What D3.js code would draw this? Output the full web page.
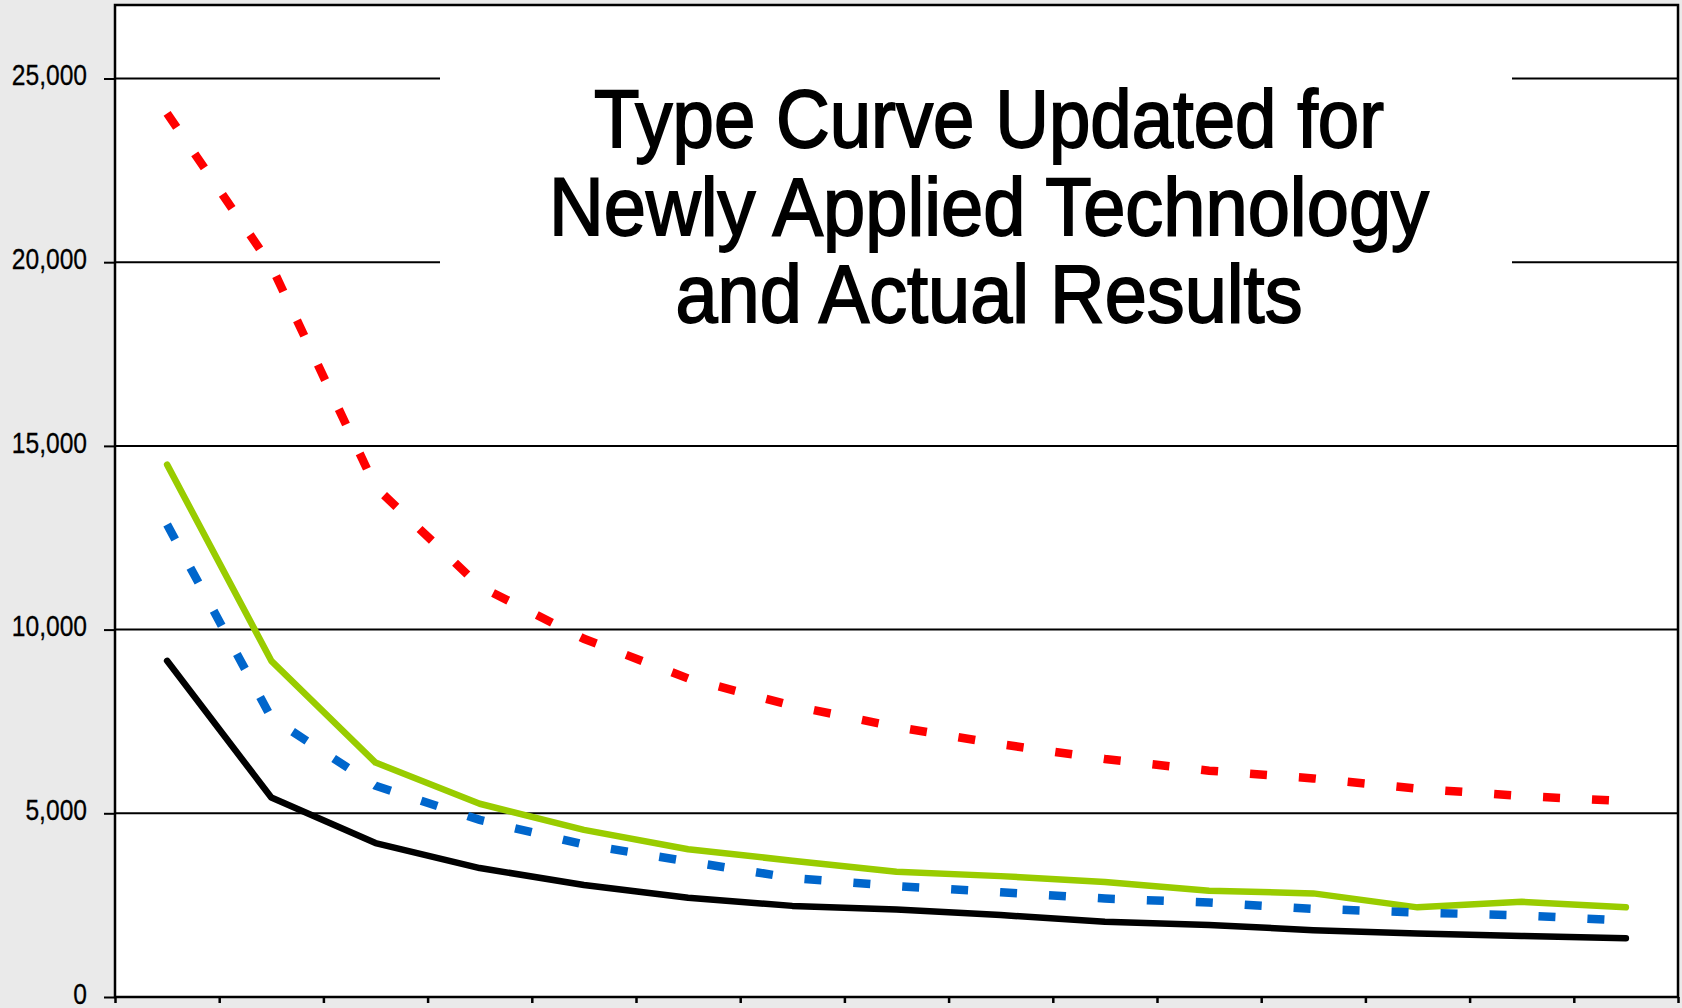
<!DOCTYPE html>
<html>
<head>
<meta charset="utf-8">
<script src="https://cdn.jsdelivr.net/npm/d3@7/dist/d3.min.js"></script>
<style>
  html, body { margin: 0; padding: 0; background: #eaeaea; }
  #chart { width: 1682px; height: 1008px; }
  .axis text {
    font-family: "Liberation Sans", Arial, sans-serif;
    font-size: 30px;
    fill: #000;
    stroke: #000;
    stroke-width: 0.3px;
  }
  .title {
    font-family: "Liberation Sans", Arial, sans-serif;
    font-size: 81px;
    fill: #000;
    stroke: #000;
    stroke-width: 1.8px;
  }
</style>
</head>
<body>
<div id="chart"></div>
<script>
// periods along the x axis (no labels shown on the original)
const periods = [1, 2, 3, 4, 5, 6, 7, 8, 9, 10, 11, 12, 13, 14, 15];
const yTicks = [0, 5000, 10000, 15000, 20000, 25000];
const titleLines = ["Type Curve Updated for", "Newly Applied Technology", "and Actual Results"];

// red dashed - updated type curve
const updatedTypeCurve = [24050, 19900, 13880, 11180, 9750, 8670, 7930, 7350, 6880, 6480, 6160, 5950, 5670, 5470, 5330];
// blue dashed - previous type curve
const previousTypeCurve = [12860, 7600, 5750, 4820, 4150, 3690, 3240, 3020, 2850, 2680, 2570, 2400, 2300, 2220, 2080];
// green - actual results, new technology
const actualNewTech = [14490, 9150, 6380, 5260, 4550, 4020, 3710, 3410, 3290, 3130, 2890, 2820, 2440, 2590, 2440];
// black - actual results, older wells
const actualOldTech = [9150, 5430, 4190, 3510, 3050, 2700, 2480, 2380, 2230, 2050, 1960, 1820, 1730, 1660, 1600];

const series = [
  { name: "Actual (older)", values: actualOldTech, color: "#000000", dash: null },
  { name: "Actual (new technology)", values: actualNewTech, color: "#99cc00", dash: null },
  { name: "Previous type curve", values: previousTypeCurve, color: "#0066cc", dash: "17,32" },
  { name: "Updated type curve", values: updatedTypeCurve, color: "#ff0000", dash: "17,32" },
];

startChart("chart");

// squeeze a text horizontally, keeping its anchor (a stand-in for a narrow font)
function condense(selection, ratio) {
  selection.each(function () {
    const len = this.getComputedTextLength();
    d3.select(this)
      .attr("textLength", len * ratio)
      .attr("lengthAdjust", "spacingAndGlyphs");
  });
}

function startChart(idNode) {
  const canvas = d3.select("#" + idNode);
  const width = 1682;
  const height = 1008;

  const svg = canvas.append("svg").attr("width", width).attr("height", height);

  svg.append("rect").attr("width", width).attr("height", height).attr("fill", "#eaeaea");

  const plot = { left: 115, top: 5, right: 1678, bottom: 997 };

  svg
    .append("rect")
    .attr("x", plot.left)
    .attr("y", plot.top)
    .attr("width", plot.right - plot.left)
    .attr("height", plot.bottom - plot.top)
    .attr("fill", "#ffffff");

  const scaleX = d3.scaleBand().domain(periods).range([plot.left, plot.right]);
  const scaleEdge = d3.scaleLinear().domain([0, periods.length]).range([plot.left, plot.right]);
  const scaleY = d3.scaleLinear().domain([0, 27000]).range([plot.bottom, plot.top]);

  // y axis with gridlines
  const yAxis = d3
    .axisLeft(scaleY)
    .tickValues(yTicks)
    .tickFormat(d3.format(","))
    .tickSizeInner(11)
    .tickSizeOuter(0)
    .tickPadding(17);

  const gy = svg
    .append("g")
    .attr("class", "axis y-axis")
    .attr("transform", "translate(" + plot.left + ",0)")
    .call(yAxis);
  gy.select(".domain").remove();
  gy.selectAll(".tick line").attr("stroke", "#000").attr("stroke-width", 2);
  gy.selectAll(".tick text").attr("dy", "0.21em").call(condense, 0.82);

  svg
    .append("g")
    .selectAll("line")
    .data(yTicks.filter((v) => v > 0))
    .enter()
    .append("line")
    .attr("x1", plot.left)
    .attr("x2", plot.right)
    .attr("y1", (d) => scaleY(d))
    .attr("y2", (d) => scaleY(d))
    .attr("stroke", "#000")
    .attr("stroke-width", 2);

  // title, on a white box that hides the gridlines behind it
  const titleBox = { x0: 440, x1: 1512, y0: 40, y1: 350 };
  const titleCenter = 989;
  const titleBaseline = 147;
  const titleLineStep = 87.5;
  const titleWidths = [790, 880, 627];

  svg
    .append("rect")
    .attr("x", titleBox.x0)
    .attr("y", titleBox.y0)
    .attr("width", titleBox.x1 - titleBox.x0)
    .attr("height", titleBox.y1 - titleBox.y0)
    .attr("fill", "#ffffff");

  svg
    .append("g")
    .selectAll("text")
    .data(titleLines)
    .enter()
    .append("text")
    .attr("class", "title")
    .attr("x", titleCenter)
    .attr("y", (d, i) => titleBaseline + i * titleLineStep)
    .attr("text-anchor", "middle")
    .attr("textLength", (d, i) => titleWidths[i])
    .attr("lengthAdjust", "spacingAndGlyphs")
    .text((d) => d);

  // series
  const line = d3
    .line()
    .x((d, i) => scaleX(periods[i]) + scaleX.bandwidth() / 2)
    .y((d) => scaleY(d));

  svg
    .append("g")
    .selectAll("path")
    .data(series)
    .enter()
    .append("path")
    .attr("d", (s) => line(s.values))
    .attr("fill", "none")
    .attr("stroke", (s) => s.color)
    .attr("stroke-width", (s) => (s.dash ? 8.5 : 6.5))
    .attr("stroke-dasharray", (s) => s.dash)
    .attr("stroke-linecap", (s) => (s.dash ? "butt" : "round"))
    .attr("stroke-linejoin", (s) => (s.dash ? "miter" : "round"));

  // x axis: ticks between categories, no labels
  const xAxis = d3
    .axisBottom(scaleEdge)
    .tickValues(d3.range(periods.length + 1))
    .tickFormat("")
    .tickSizeInner(6)
    .tickSizeOuter(0);

  const gx = svg
    .append("g")
    .attr("class", "axis x-axis")
    .attr("transform", "translate(0," + plot.bottom + ")")
    .call(xAxis);
  gx.select(".domain").remove();
  gx.selectAll(".tick line").attr("stroke", "#000").attr("stroke-width", 2.5);

  // plot border
  svg
    .append("rect")
    .attr("x", plot.left)
    .attr("y", plot.top)
    .attr("width", plot.right - plot.left)
    .attr("height", plot.bottom - plot.top)
    .attr("fill", "none")
    .attr("stroke", "#000")
    .attr("stroke-width", 2.5);
}
</script>
</body>
</html>
